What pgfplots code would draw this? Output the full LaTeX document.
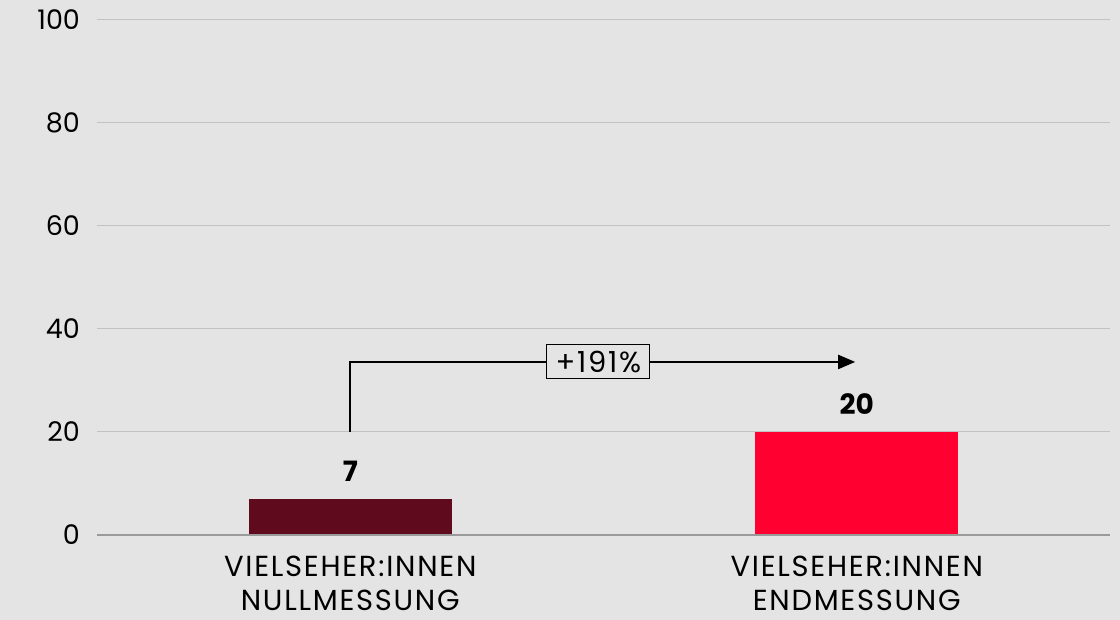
\documentclass[border=0pt]{standalone}
\usepackage{pgfplots}
\pgfplotsset{compat=1.18}
\usepackage{fontspec}
\setmainfont{Poppins}
\newfontfamily\catfont[LetterSpace=6]{Poppins}
\usetikzlibrary{arrows.meta}
\definecolor{bg}{HTML}{E4E4E4}
\definecolor{gridc}{HTML}{C2C2C2}
\definecolor{axc}{HTML}{9A9A9A}
\definecolor{darkred}{HTML}{600A1E}
\definecolor{brightred}{HTML}{FF0030}
\begin{document}
\begin{tikzpicture}
\fill[bg] (-48.5pt,-42.5pt) rectangle (511.5pt,267.5pt);
\useasboundingbox (-48.5pt,-42.5pt) rectangle (511.5pt,267.5pt);
\begin{axis}[
  at={(0,0)}, anchor=south west,
  scale only axis, width=506.5pt, height=257.5pt,
  xmin=-0.5, xmax=1.5, ymin=0, ymax=100,
  ytick={0,20,40,60,80,100},
  xtick={0,1},
  xticklabels={{VIELSEHER:INNEN\\NULLMESSUNG},{VIELSEHER:INNEN\\ENDMESSUNG}},
  xticklabel style={align=center, font=\catfont\fontsize{14.5}{17}\selectfont, yshift=-7pt},
  yticklabel style={font=\fontsize{13.5}{16}\selectfont, xshift=-5pt},
  /pgf/number format/assume math mode=true,
  axis line style={draw=none},
  major tick length=0pt,
  ymajorgrids, grid style={gridc, line width=0.5pt},
  axis background/.style={fill=bg},
  clip=false,
  every axis plot/.append style={draw=none},
  bar width=0.4,
  nodes near coords,
  nodes near coords style={font=\bfseries\fontsize{14}{16}\selectfont, anchor=base, yshift=8.5pt, inner sep=0pt, text=black},
]
\addplot[ybar, fill=darkred] coordinates {(0,7)};
\addplot[ybar, fill=brightred] coordinates {(1,20)};
\draw[axc, line width=1pt] (axis cs:-0.5,0) -- (axis cs:1.5,0);
\draw[black, line width=1pt, -{Triangle[length=8.5pt, width=7pt]}] (axis cs:0,20) -- (axis cs:0,33.6) -- (axis cs:0.997,33.6);
\node[draw=black, line width=0.5pt, fill=bg, inner sep=0pt, minimum width=51.5pt, minimum height=17pt, font=\catfont\fontsize{14.5}{16}\selectfont] at (axis cs:0.49,33.6) {+191\%};
\end{axis}
\end{tikzpicture}
\end{document}
